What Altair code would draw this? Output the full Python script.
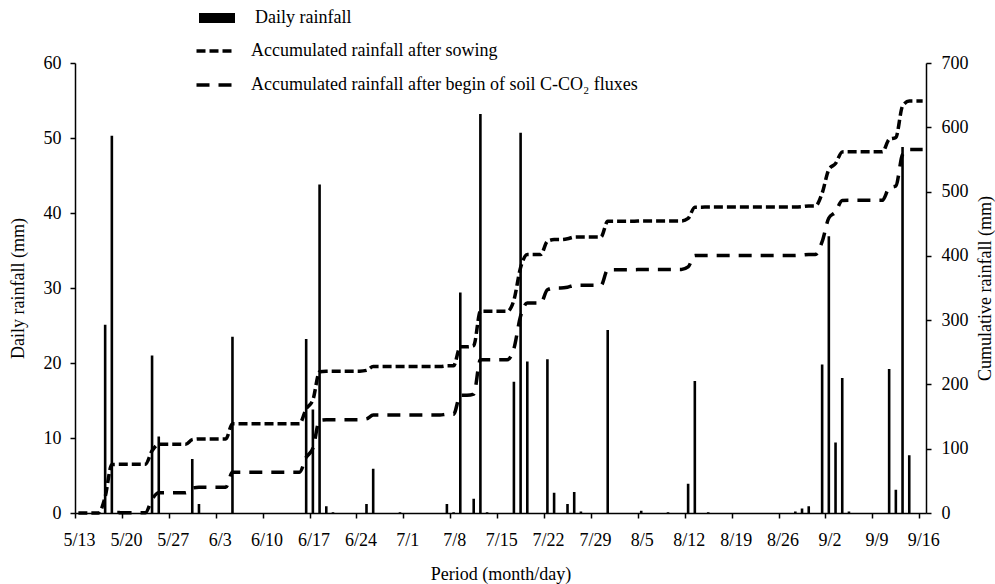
import json
import pandas as pd
import altair as alt

# ---------------- data ----------------
period_start = "5/13"
period_end = "9/16"
soil_start = "5/19"   # begin of soil C-CO2 flux measurements

dates = ["5/17", "5/18", "5/19", "5/24", "5/25", "5/30", "5/31", "6/5",
         "6/16", "6/17", "6/18", "6/19", "6/20", "6/25", "6/26", "6/30",
         "7/7", "7/8", "7/9", "7/11", "7/12", "7/13", "7/17", "7/18",
         "7/19", "7/22", "7/23", "7/25", "7/26", "7/27", "7/31", "8/5",
         "8/9", "8/12", "8/13", "8/15", "8/28", "8/29", "8/30", "9/1",
         "9/2", "9/3", "9/4", "9/5", "9/11", "9/12", "9/13", "9/14"]
rain = [25.1, 50.3, 0.3, 21.0, 10.2, 7.2, 1.2, 23.5,
        23.2, 13.8, 43.8, 0.9, 0.1, 1.2, 5.9, 0.1,
        1.2, 0.1, 29.4, 1.9, 53.2, 0.1, 17.5, 50.7,
        20.2, 20.5, 2.7, 1.2, 2.8, 0.2, 24.4, 0.3,
        0.1, 3.9, 17.6, 0.1, 0.2, 0.6, 0.9, 19.8,
        36.9, 9.4, 18.0, 0.2, 19.2, 3.1, 48.8, 7.7]

tick_labels = ["5/13", "5/20", "5/27", "6/3", "6/10", "6/17", "6/24", "7/1",
               "7/8", "7/15", "7/22", "7/29", "8/5", "8/12", "8/19", "8/26",
               "9/2", "9/9", "9/16"]

bar_name = "Daily rainfall"
sow_name = "Accumulated rainfall after sowing"
soil_name = "Accumulated rainfall after begin of soil C-CO\u2082 fluxes"

# ---------------- build tables ----------------
def to_date(s):
    m, d = s.split("/")
    return pd.Timestamp(year=2000, month=int(m), day=int(d))

start = to_date(period_start)
days = pd.date_range(start, to_date(period_end), freq="D")
daily = pd.Series(0.0, index=days)
for d, r in zip(dates, rain):
    daily[to_date(d)] = r

t_all = [(d - start).days + 0.5 for d in days]

bar_df = pd.DataFrame({
    "t": [(to_date(d) - start).days + 0.5 for d in dates],
    "rain": rain,
    "legend": bar_name,
})

sow_cum = daily.cumsum()
soil_mask = days >= to_date(soil_start)
soil_cum = daily[soil_mask].cumsum()

line_df = pd.concat([
    pd.DataFrame({"t": t_all, "cum": sow_cum.values, "series": sow_name}),
    pd.DataFrame({"t": [t for t, m in zip(t_all, soil_mask) if m],
                  "cum": soil_cum.values, "series": soil_name}),
], ignore_index=True)

# ---------------- chart ----------------
FONT = "Liberation Serif"
n_days = len(days)

label_js = json.dumps(tick_labels)
x_enc = alt.X(
    "t:Q",
    scale=alt.Scale(domain=[0, n_days], nice=False, zero=False, padding=0),
    axis=alt.Axis(
        values=list(range(0, n_days, 7)),
        labelExpr=f"{label_js}[round(datum.value / 7)]",
        title="Period (month/day)",
        labelOffset=4,
        labelPadding=13,
        titleY=61,
        titleBaseline="middle",
        labelFlush=False,
        labelOverlap=False,
    ),
)

bars = alt.Chart(bar_df).mark_bar(size=2.6).encode(
    x=x_enc,
    y=alt.Y(
        "rain:Q",
        scale=alt.Scale(domain=[0, 60], nice=False),
        axis=alt.Axis(
            values=[0, 10, 20, 30, 40, 50, 60],
            title="Daily rainfall (mm)",
            labelPadding=9,
            titleX=-57,
            titleY=225,
            titleAngle=270,
            titleAlign="center",
            titleBaseline="middle",
        ),
    ),
    color=alt.Color(
        "legend:N",
        scale=alt.Scale(domain=[bar_name], range=["black"]),
        legend=alt.Legend(
            title=None,
            orient="none",
            legendX=133,
            legendY=-54,
            padding=0,
            symbolType="M-3.6,-1L3.6,-1L3.6,1L-3.6,1Z",
            symbolSize=100,
            symbolStrokeWidth=0,
            labelOffset=29,
        ),
    ),
)

lines = alt.Chart(line_df).mark_line(
    color="black", strokeWidth=3.5, interpolate="monotone"
).encode(
    x=x_enc,
    y=alt.Y(
        "cum:Q",
        scale=alt.Scale(domain=[0, 700], nice=False),
        axis=alt.Axis(
            orient="right",
            values=[0, 100, 200, 300, 400, 500, 600, 700],
            title="Cumulative rainfall (mm)",
            labelPadding=10,
            titleX=59,
            titleY=225,
            titleAngle=270,
            titleAlign="center",
            titleBaseline="middle",
        ),
    ),
    strokeDash=alt.StrokeDash(
        "series:N",
        scale=alt.Scale(domain=[sow_name, soil_name], range=[[9, 4], [13, 9]]),
        legend=alt.Legend(
            title=None,
            orient="none",
            legendX=131,
            legendY=-21,
            padding=0,
            symbolType="M-3.7,0L3.7,0",
            symbolSize=100,
            symbolStrokeWidth=3.5,
            symbolStrokeColor="black",
            labelOffset=27,
            rowPadding=16,
        ),
    ),
)

chart = alt.layer(bars, lines).resolve_scale(
    y="independent", color="independent", strokeDash="independent"
).properties(
    width=851,
    height=450,
    autosize="none",
    padding={"left": 75, "top": 63, "right": 69, "bottom": 71},
).configure_axis(
    labelFont=FONT,
    titleFont=FONT,
    labelFontSize=18,
    titleFontSize=18,
    titleFontWeight="normal",
    labelColor="black",
    titleColor="black",
    domainColor="black",
    tickColor="black",
    domainWidth=1.5,
    tickWidth=1.5,
    tickSize=5,
    grid=False,
).configure_legend(
    labelFont=FONT,
    labelFontSize=18,
    labelColor="black",
    labelLimit=600,
).configure_view(
    strokeWidth=0
)

chart.save("out.html", embed_options={"renderer": "svg", "actions": False})
